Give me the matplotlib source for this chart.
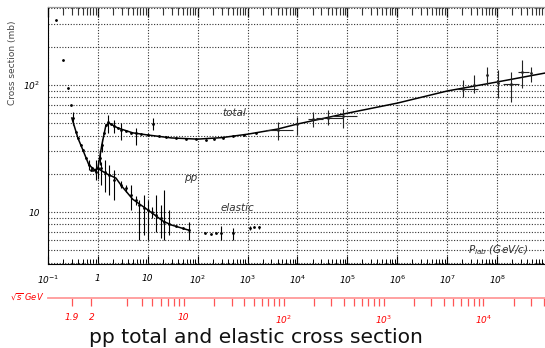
import numpy as np
import matplotlib.pyplot as plt
from matplotlib.ticker import FixedLocator, LogLocator, NullFormatter

plt.rcParams['mathtext.default'] = 'it'

# total cross section, low energy part (p_lab GeV/c, sigma mb, error down/up)
tot_p = [0.145, 0.2, 0.25, 0.29, 0.32, 0.36, 0.4, 0.46, 0.5, 0.58, 0.66, 0.76, 0.87, 1.0,
         1.1, 1.2, 1.32, 1.45, 1.58, 1.82, 2.1, 2.5, 2.9, 3.6, 4.6, 5.8, 7.2, 10, 12.6,
         16.6, 23, 36, 58, 91, 144, 209, 316, 500, 830, 1450]
tot_sig = [325, 157, 95, 70, 55, 42.6, 38, 33.8, 30.8, 26.6, 23.5, 22.2, 21.4, 22.2,
           26.6, 33.8, 41.9, 48.4, 51, 49.3, 47.6, 45.9, 44.2, 43.4, 41.9, 41.9, 41, 40.4, 49.4,
           39.7, 39, 38.3, 37.6, 37.6, 36.9, 37.6, 38.3, 39.7, 40.4, 41.9]
tot_dn = [0, 0, 0, 0, 7, 0, 0, 0, 0, 0, 2, 0, 0, 4,
          3, 4, 0, 0, 9, 0, 6, 0, 7.3, 0, 0, 8, 0, 0, 5.4,
          0, 0, 0, 0, 0, 0, 0, 0, 0, 0, 0]
tot_up = [0, 0, 0, 0, 6, 0, 0, 0, 0, 0, 2, 0, 0, 3.4,
          3, 4, 0, 0, 7, 0, 5, 0, 5.8, 0, 0, 4, 0, 0, 5.6,
          0, 0, 0, 0, 0, 0, 0, 0, 0, 0, 0]

# total cross section, high energy crosses
hi_p = [3980, 1.0e4, 2.0e4, 4.0e4, 8.3e4, 2.1e7, 3.5e7, 6.3e7, 1.05e8, 1.9e8, 3.2e8, 4.8e8]
hi_sig = [44.2, 49.3, 54, 55, 57, 93, 100, 120, 103.7, 101.8, 126.6, 124]
hi_dn = [7.3, 8.9, 7.3, 6.6, 11, 12.6, 13.5, 20, 25, 28, 32, 18.4]
hi_up = [7, 6.7, 7, 8.5, 7.7, 16.5, 20, 18.6, 27, 25, 31, 14.6]
hi_pl = [2290, 1.0e4, 1.6e4, 2.3e4, 5.0e4, 1.6e7, 3.5e7, 6.3e7, 1.05e8, 1.3e8, 2.6e8, 4.8e8]
hi_pr = [7940, 1.0e4, 3.3e4, 8.3e4, 1.58e5, 4.1e7, 3.5e7, 6.3e7, 1.05e8, 2.8e8, 4.4e8, 4.8e8]

# elastic cross section
el_p = [0.72, 0.91, 1.15, 1.38, 1.66, 2.09, 2.88, 3.63, 4.6, 5.75, 6.6, 8.3, 10, 12, 14.5,
        18.2, 21, 26.3, 36, 50, 66, 138, 182, 229, 288, 500, 1100, 1318, 1660]
el_sig = [21.4, 20.7, 22.2, 20.7, 19.6, 17.9, 16.4, 15.4, 13.6, 12.4, 11.3, 10.8, 10.4, 10, 9.5,
          9.0, 8.3, 8.0, 7.8, 7.5, 7.2, 6.8, 6.7, 6.8, 6.9, 6.8, 7.5, 7.6, 7.6]
el_dn = [0, 2.8, 5.8, 6.3, 6, 5.5, 1, 1, 3.2, 1, 5.3, 4.2, 4.4, 1, 2.5,
         2.7, 2.3, 1.4, 0, 0, 1.2, 0, 0, 0, 0.9, 0.8, 0.3, 0, 0.2]
el_up = [0, 4.9, 2.6, 4.9, 3.9, 3.5, 1, 1, 2.8, 1, 1.1, 2.8, 2.0, 1, 4.1,
         2.3, 6.6, 2.4, 0, 0, 1.1, 0, 0, 0, 0.8, 0.7, 0.3, 0, 0.2]

# fitted curves
tot_fit_p = [0.3, 0.4, 0.5, 0.66, 0.87, 1.0, 1.2, 1.45, 1.7, 2.5, 5, 10, 30, 100, 300,
             1000, 4000, 1e4, 1e5, 1e6, 1e7, 1e8, 1e9]
tot_fit_sig = [55, 38, 30.8, 23.5, 21.4, 22.2, 33.8, 48.4, 50, 45.9, 42, 40.4, 38.3, 37.5, 38.5,
               41, 45, 49.3, 60, 72, 89.7, 105.6, 125]
el_fit_p = [0.8, 1.0, 1.5, 2.3, 3, 5, 10, 20, 30, 66]
el_fit_sig = [21, 22, 20, 18.5, 16, 12.6, 10.4, 8.5, 7.9, 7.2]

# tick labels
xtick_vals = [1e-1, 1, 1e1, 1e2, 1e3, 1e4, 1e5, 1e6, 1e7, 1e8, 1e9]
xtick_labels = ['10$^{-1}$', '1', '10', '10$^{2}$', '10$^{3}$', '10$^{4}$', '10$^{5}$',
                '10$^{6}$', '10$^{7}$', '10$^{8}$', '']
rs_vals = [1.9, 2, 10, 100, 1000, 10000]
rs_labels = ['1.9', '2', '10', '10$^{2}$', '10$^{3}$', '10$^{4}$']
rs_minor = [3, 4, 5, 6, 7, 8, 9, 20, 30, 40, 50, 60, 70, 80, 90, 200, 300, 400, 500, 600,
            700, 800, 900, 2000, 3000, 4000, 5000, 6000, 7000, 8000, 9000, 20000, 30000, 40000]

m = 0.938


def p_to_rs(p):
    p = np.asarray(p, float)
    e = np.sqrt(p**2 + m**2)
    return np.sqrt(2 * m * m + 2 * m * e)


def rs_to_p(rs):
    rs = np.asarray(rs, float)
    e = (rs**2 - 2 * m * m) / (2 * m)
    return np.sqrt(np.clip(e**2 - m * m, 1e-12, None))


fig = plt.figure(figsize=(5.45, 3.48), dpi=100)
ax = fig.add_axes([48 / 545, 84 / 348, 499 / 545, 257 / 348])
ax.set_xscale('log')
ax.set_yscale('log')
ax.set_xlim(0.1, 1e9)
ax.set_ylim(3.9, 411)

dots = dict(linestyle=(0, (1, 1.5)), linewidth=0.8, color='#333333')
ax.yaxis.set_major_locator(FixedLocator([10, 100]))
ax.yaxis.set_minor_locator(LogLocator(base=10, subs=np.arange(2, 10), numticks=100))
ax.yaxis.set_minor_formatter(NullFormatter())
ax.set_yticklabels(['10', '10$^{2}$'])
ax.xaxis.set_major_locator(FixedLocator(xtick_vals))
ax.xaxis.set_minor_locator(LogLocator(base=10, subs=np.arange(2, 10), numticks=100))
ax.xaxis.set_minor_formatter(NullFormatter())
ax.set_xticklabels(xtick_labels)
ax.grid(True, which='both', axis='y', **dots)
ax.grid(True, which='major', axis='x', **dots)
ax.set_axisbelow(True)

ax.tick_params(axis='y', which='both', length=0, labelsize=6.5, pad=6)
ax.tick_params(axis='x', which='major', direction='in', length=6, width=0.8,
               labelsize=6.5, pad=7)
ax.tick_params(axis='x', which='minor', direction='in', length=3.5, width=0.7)
for lab in ax.get_xticklabels() + ax.get_yticklabels():
    lab.set_fontstyle('italic')
ax.spines['right'].set_visible(False)
ax.spines['top'].set_color('#999999')

# top ticks
top = ax.secondary_xaxis('top')
top.xaxis.set_major_locator(FixedLocator(xtick_vals))
top.xaxis.set_minor_locator(LogLocator(base=10, subs=np.arange(2, 10), numticks=100))
top.tick_params(which='major', direction='in', length=7, width=0.9, labeltop=False)
top.tick_params(which='minor', direction='in', length=5.5, width=0.8, color='#333333')
top.xaxis.set_minor_formatter(NullFormatter())
top.spines['top'].set_color('#999999')

# curves
ax.plot(tot_fit_p, tot_fit_sig, color='k', lw=1.1)
ax.plot(el_fit_p, el_fit_sig, color='k', lw=1.1)
ax.errorbar(tot_p, tot_sig, yerr=[tot_dn, tot_up], fmt='.', ms=2, color='k',
            elinewidth=0.8, capsize=0)
ax.errorbar(el_p, el_sig, yerr=[el_dn, el_up], fmt='.', ms=2, color='k',
            elinewidth=0.8, capsize=0)
hi_xerr = [np.array(hi_p) - np.array(hi_pl), np.array(hi_pr) - np.array(hi_p)]
ax.errorbar(hi_p, hi_sig, yerr=[hi_dn, hi_up], xerr=hi_xerr, fmt='.', ms=2,
            color='#222222', elinewidth=0.8, capsize=0)

txt = dict(fontstyle='italic', fontsize=7.5, color='#333333', ha='center', va='center')
ax.text(550, 60.3, 'total', **txt)
ax.text(72, 18.5, 'pp', **txt)
ax.text(631, 10.75, 'elastic', **txt)
ax.text(1.05e8, 5.0, '$P_{lab}$ (GeV/c)', **txt)

# sqrt(s) axis in red
red = ax.secondary_xaxis(-0.132, functions=(p_to_rs, rs_to_p))
red.xaxis.set_major_locator(FixedLocator(rs_vals))
red.xaxis.set_minor_locator(FixedLocator(rs_minor))
red.xaxis.set_minor_formatter(NullFormatter())
red.set_xticklabels(rs_labels)
red.spines['bottom'].set_color('#ff9a9a')
red.spines['bottom'].set_linewidth(1.3)
red.tick_params(which='both', direction='out', length=6, width=0.9, color='#ff5555',
                labelcolor='red', labelsize=6.5, pad=5)
for lab in red.get_xticklabels():
    lab.set_fontstyle('italic')

fig.text(27 / 545, 1 - 297 / 348, '$\\sqrt{s}$ GeV', color='red', fontsize=6,
         fontstyle='italic', ha='center', va='center')
fig.text(13 / 545, 1 - 63 / 348, 'Cross section (mb)', rotation=90, fontsize=6.5,
         color='#444444', ha='center', va='center')
fig.text(256 / 545, 5 / 348, 'pp total and elastic cross section', fontsize=14.6,
         family='DejaVu Sans', color='#111111', ha='center', va='baseline')

fig.savefig('out.png', dpi=100)
